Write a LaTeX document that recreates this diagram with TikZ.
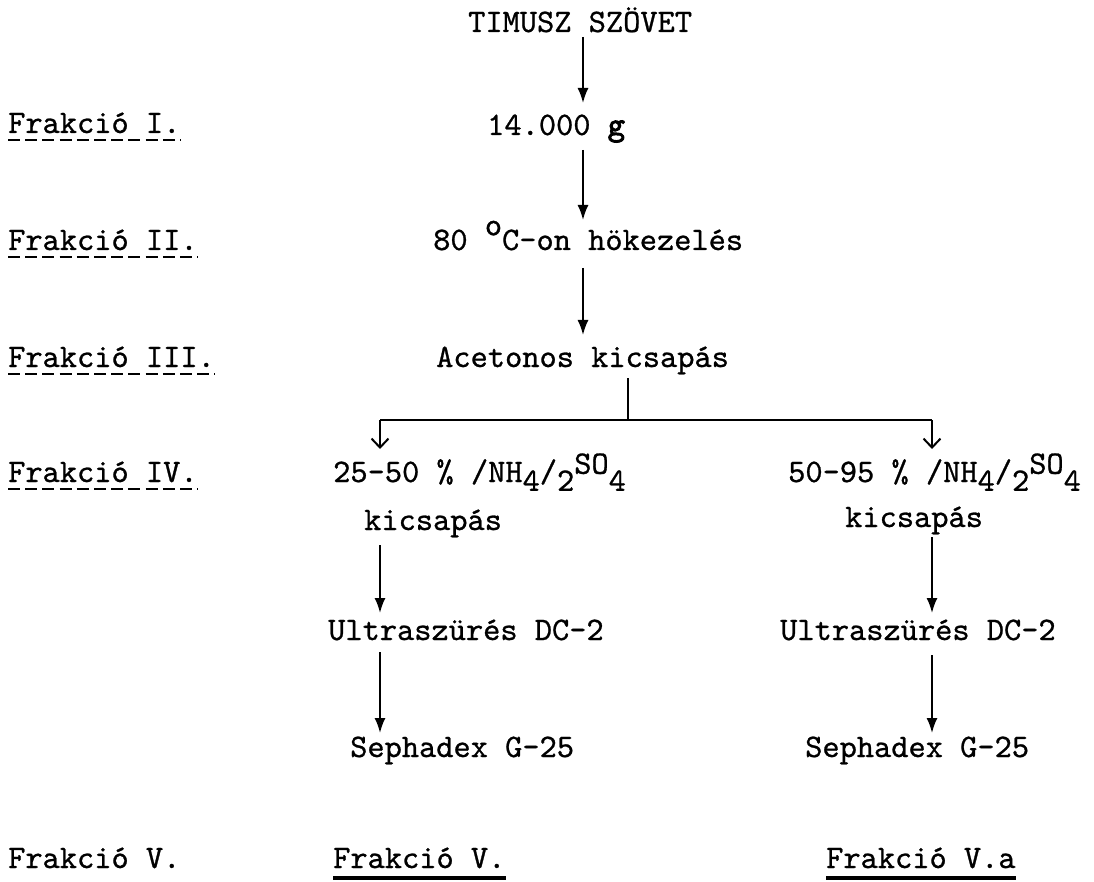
\documentclass[tikz,border=0pt]{standalone}
\usepackage{fontspec}
\usetikzlibrary{arrows.meta}
% typewriter face, slightly heavier strokes
\newfontfamily\typew{lmmono10-regular.otf}[FakeBold=0.8]
\newfontfamily\typewheavy{lmmono10-regular.otf}[FakeBold=3]
% typewriter half-line shifts
\newcommand\subdn[1]{\raisebox{-0.27em}{#1}}
\newcommand\supup[1]{\raisebox{0.25em}{#1}}
\newcommand\degr{\raisebox{0.45em}{o}}
\begin{document}
\begin{tikzpicture}[x=1pt,y=-1pt,
  txt/.style={anchor=base west,inner sep=0pt,font=\typew\fontsize{32.8}{36}\selectfont},
  flow/.style={line width=1.8pt,-{Latex[length=15pt,width=11pt]}},
  fork/.style={line width=1.8pt,-{Straight Barb[length=9pt,width=17pt,line width=2pt]}},
  barline/.style={line width=1.8pt},
  dashul/.style={line width=2.6pt,dash pattern=on 12pt off 5.2pt},
  solidul/.style={line width=3.2pt}]
\fill[white] (0,0) rectangle (1094,882);
\useasboundingbox (0,0) rectangle (1094,882);

% column positions
\coordinate (cx) at (583,0);
\coordinate (lx) at (380,0);
\coordinate (rx) at (932,0);
\coordinate (J)  at (628,420);
\coordinate (JL) at (380,420);
\coordinate (JR) at (932,420);

% fraction labels
\node[txt] (F1) at (8,133) {Frakció I.};
\node[txt] (F2) at (8,250) {Frakció II.};
\node[txt] (F3) at (8,367) {Frakció III.};
\node[txt] (F4) at (8,482) {Frakció IV.};
\node[txt] (F5) at (8,868) {Frakció V.};
\foreach \f in {F1,F2,F3,F4}
  \draw[dashul] ([yshift=-7pt]\f.base west) -- ([yshift=-7pt]\f.base east);

% main column
\node[txt] (n0) at (468,32)  {TIMUSZ SZÖVET};
\node[txt] (n1) at (487,135) {14.000 {\typewheavy g}};
\node[txt] (n2) at (433,250) {80 \degr C-on hökezelés};
\node[txt] (n3) at (436,367) {Acetonos kicsapás};

% left branch
\node[txt] (L1)  at (333,482) {25-50 \% /NH\subdn{4}/\subdn{2}\supup{SO}\subdn{4}};
\node[txt] (L1b) at (364,530) {kicsapás};
\node[txt] (L2)  at (328,640) {Ultraszürés DC-2};
\node[txt] (L3)  at (350,757) {Sephadex G-25};
\node[txt] (L4)  at (333,868) {Frakció V.};

% right branch
\node[txt] (R1)  at (788,482) {50-95 \% /NH\subdn{4}/\subdn{2}\supup{SO}\subdn{4}};
\node[txt] (R1b) at (845,527) {kicsapás};
\node[txt] (R2)  at (780,640) {Ultraszürés DC-2};
\node[txt] (R3)  at (805,757) {Sephadex G-25};
\node[txt] (R4)  at (826,868) {Frakció V.a};

\draw[solidul] ([yshift=-10pt]L4.base west) -- ([yshift=-10pt]L4.base east);
\draw[solidul] ([yshift=-10pt]R4.base west) -- ([yshift=-10pt]R4.base east);

% main flow
\draw[flow] ([yshift=-5pt]n0.base -| cx) -- ([yshift=32pt]n1.base -| cx);
\draw[flow] ([yshift=-15pt]n1.base -| cx) -- ([yshift=30pt]n2.base -| cx);
\draw[flow] ([yshift=-18pt]n2.base -| cx) -- ([yshift=32pt]n3.base -| cx);

% split
\draw[barline] ([yshift=-11pt]n3.base -| J) -- (J);
\draw[barline] (JL) -- (JR);
\draw[fork] (JL) -- ([yshift=33pt]L1.base -| JL);
\draw[fork] (JR) -- ([yshift=33pt]R1.base -| JR);

% left column
\draw[flow] ([yshift=-15pt]L1b.base -| lx) -- ([yshift=27pt]L2.base -| lx);
\draw[flow] ([yshift=-12pt]L2.base -| lx) -- ([yshift=24pt]L3.base -| lx);

% right column
\draw[flow] ([yshift=-10pt]R1b.base -| rx) -- ([yshift=27pt]R2.base -| rx);
\draw[flow] ([yshift=-15pt]R2.base -| rx) -- ([yshift=24pt]R3.base -| rx);
\end{tikzpicture}
\end{document}
